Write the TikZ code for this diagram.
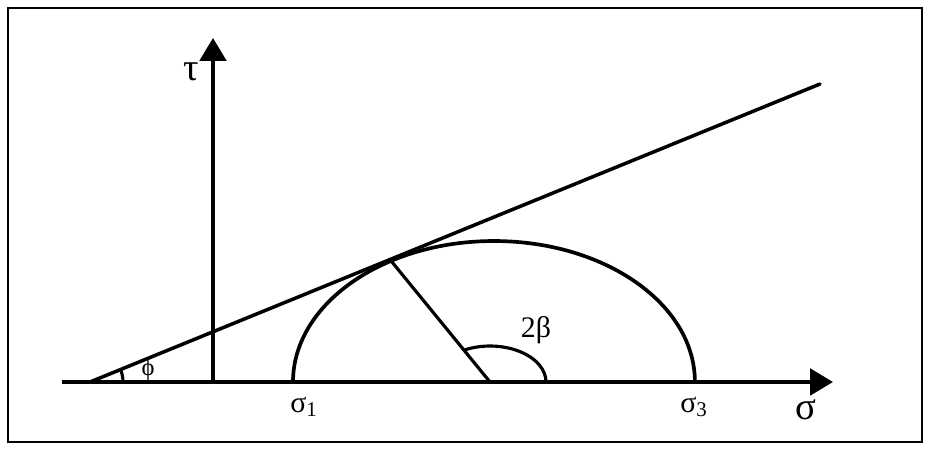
\documentclass[tikz,border=0pt]{standalone}
\usepackage{fontspec}
\setmainfont{Liberation Serif}
\usepackage{xcolor}
\usepackage{tikz}
\usetikzlibrary{arrows.meta, positioning, calc}
\definecolor{mohrink}{RGB}{0, 0, 0}

\tikzset{
    axisline/.style={line width=2.2pt, mohrink, -{Triangle[length=13pt, width=15pt]}},
    envline/.style={line width=2pt, mohrink, line cap=round},
    circline/.style={line width=2.1pt, mohrink},
    angline/.style={line width=1.8pt, mohrink},
    lbl/.style={inner sep=0pt, font=\fontsize{17}{17}\selectfont},
    biglbl/.style={inner sep=0pt, font=\fontsize{22}{22}\selectfont}
}

\begin{document}
\begin{tikzpicture}[x=0.02cm, y=-0.02cm]
    % Frame (fixes the margins)
    \useasboundingbox (0,0) rectangle (931,452);
    \draw[line width=1.3pt] (8,8) rectangle (922,442);

    % Key points of the Mohr diagram
    \coordinate (SigStart) at (62,382);
    \coordinate (SigEnd) at (833,382);
    \coordinate (Origin) at (213,382);
    \coordinate (TauEnd) at (213,38);
    \coordinate (Apex) at (90,382);
    \coordinate (EnvEnd) at (820,84);
    \coordinate (Centre) at (490,382);
    \coordinate (Touch) at (392,262);
    \coordinate (Sig1) at (293,382);

    % Axes
    \draw[axisline] (SigStart) -- (SigEnd);
    \draw[axisline] (Origin) -- (TauEnd);

    % Failure envelope
    \draw[envline] (Apex) -- (EnvEnd);

    % Mohr semicircle and its radius to the touching point
    \draw[circline] (Sig1) arc[start angle=180, end angle=0, x radius=4.02cm, y radius=2.82cm];
    \draw[angline] (Centre) -- (Touch);

    % Angle marks
    \draw[angline] (Apex) ++(0:0.66cm) arc[start angle=0, end angle=22.2, radius=0.66cm];
    \draw[angline] (Centre) ++(117.7:1.12cm and 0.72cm)
        arc[start angle=117.7, end angle=0, x radius=1.12cm, y radius=0.72cm];

    % Labels
    \node[biglbl] (tau) at (191,72) {τ};
    \node[biglbl] (sigma) at (806,410) {σ};
    \node[lbl, font=\fontsize{14}{14}\selectfont] (phi) at (148,370) {ϕ};
    \node[lbl] (beta) at (536,330) {2β};
    \node[lbl] (sigone) at (304,407) {σ\textsubscript{1}};
    \node[lbl] (sigthree) at (694,407) {σ\textsubscript{3}};
\end{tikzpicture}
\end{document}
